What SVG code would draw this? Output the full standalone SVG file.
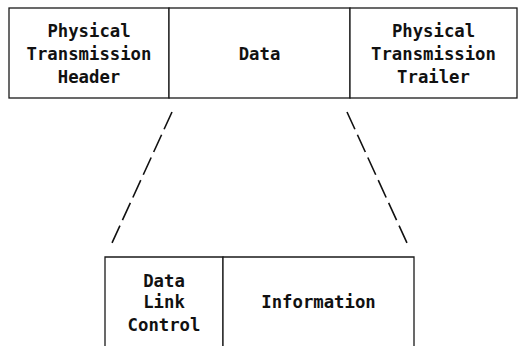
<svg xmlns="http://www.w3.org/2000/svg" width="526" height="346" viewBox="0 0 526 346">
<style>
.box{fill:#fff;stroke:#1a1a1a;stroke-width:1.3}
.t{font-family:"DejaVu Sans Mono","Liberation Mono",monospace;font-weight:bold;font-size:17.3px;fill:#111;text-anchor:middle}
.dash{stroke:#111;stroke-width:1.6;fill:none;stroke-dasharray:19 6}
</style>
<g id="frame">
<g id="header"><rect class="box" x="9" y="8" width="160" height="90"/>
<text class="t" x="89" y="37">Physical</text><text class="t" x="89" y="60">Transmission</text><text class="t" x="89" y="83">Header</text></g>
<g id="data"><rect class="box" x="169" y="8" width="181" height="90"/>
<text class="t" x="259.5" y="60">Data</text></g>
<g id="trailer"><rect class="box" x="350" y="8" width="167" height="90"/>
<text class="t" x="433.5" y="37">Physical</text><text class="t" x="433.5" y="60">Transmission</text><text class="t" x="433.5" y="83">Trailer</text></g>
</g>
<g id="connectors">
<line class="dash" x1="172" y1="112" x2="112" y2="243"/>
<line class="dash" x1="347" y1="112" x2="407" y2="243"/>
</g>
<g id="dataframe">
<g id="dlc"><path class="box" d="M105 346 V257 H223 V346"/>
<text class="t" x="164" y="287">Data</text><text class="t" x="164" y="308">Link</text><text class="t" x="164" y="331">Control</text></g>
<g id="info"><path class="box" d="M223 346 V257 H414 V346"/>
<text class="t" x="318.5" y="308">Information</text></g>
</g>
</svg>
